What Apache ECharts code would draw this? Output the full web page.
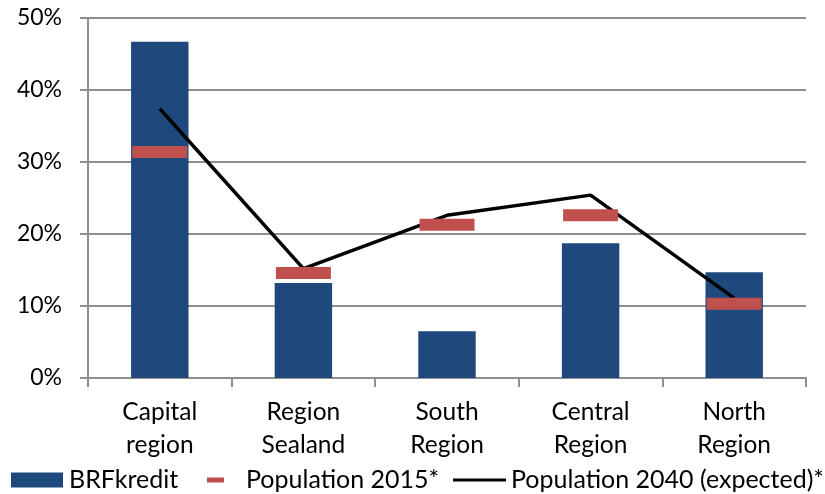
<!DOCTYPE html>
<html>
<head>
<meta charset="utf-8">
<script src="https://cdn.jsdelivr.net/npm/echarts@6/dist/echarts.min.js"></script>
<style>
  html, body { margin: 0; padding: 0; background: #fff; }
  #chart { width: 825px; height: 494px; }
</style>
</head>
<body>
<div id="chart"></div>
<script>
// Regional shares (%)
const regions = ['Capital\nregion', 'Region\nSealand', 'South\nRegion', 'Central\nRegion', 'North\nRegion'];
const brfkredit = [46.7, 13.2, 6.5, 18.7, 14.7];
const population2015 = [31.4, 14.6, 21.3, 22.6, 10.3];
const population2040 = [37.4, 15.2, 22.6, 25.4, 11.1];
const yTicks = [0, 10, 20, 30, 40, 50];

const FONT = 'Lato, "Open Sans", sans-serif';
const GRID_COLOR = '#8f8f8f';

const chart = echarts.init(document.getElementById('chart'), null, { renderer: 'canvas' });

const legendText = { color: '#000', fontFamily: FONT, fontSize: 25, lineHeight: 26 };

chart.setOption({
  animation: false,
  backgroundColor: '#fff',
  grid: { left: 88, right: 19, top: 18, bottom: 116, containLabel: false },
  xAxis: {
    type: 'category',
    data: regions,
    boundaryGap: true,
    axisLine: { lineStyle: { color: GRID_COLOR, width: 2 } },
    axisTick: { show: true, length: 9, lineStyle: { color: GRID_COLOR, width: 2 } },
    axisLabel: {
      color: '#000', fontFamily: FONT, fontSize: 24.5, lineHeight: 33, margin: 18,
      interval: 0
    }
  },
  yAxis: {
    type: 'value',
    min: yTicks[0],
    max: yTicks[yTicks.length - 1],
    interval: 10,
    axisLine: { show: true, lineStyle: { color: GRID_COLOR, width: 2 } },
    axisTick: { show: true, length: 8, lineStyle: { color: GRID_COLOR, width: 2 } },
    splitLine: { show: true, lineStyle: { color: GRID_COLOR, width: 2 } },
    axisLabel: {
      color: '#000', fontFamily: FONT, fontSize: 23, margin: 26,
      formatter: v => v + '%'
    }
  },
  legend: [
    {
      data: [{ name: 'BRFkredit', icon: 'rect' }],
      left: 11, top: 467, padding: 0, itemWidth: 52, itemHeight: 15,
      textStyle: Object.assign({}, legendText, { padding: [0, 0, 0, 1] }),
      selectedMode: false
    },
    {
      data: [{ name: 'Population 2015*', icon: 'rect' }],
      left: 207, top: 467, padding: 0, itemWidth: 17, itemHeight: 5,
      textStyle: Object.assign({}, legendText, { padding: [0, 0, 0, 17] }),
      selectedMode: false
    },
    {
      data: [{ name: 'Population 2040 (expected)*', icon: 'rect' }],
      left: 453, top: 467, padding: 0, itemWidth: 53, itemHeight: 3,
      textStyle: legendText,
      selectedMode: false
    }
  ],
  series: [
    {
      name: 'BRFkredit',
      type: 'bar',
      data: brfkredit,
      barWidth: '40%',
      itemStyle: { color: '#1F497D' },
      z: 2
    },
    {
      name: 'Population 2040 (expected)*',
      type: 'line',
      data: population2040,
      symbol: 'none',
      lineStyle: { color: '#000', width: 3.5 },
      itemStyle: { color: '#000' },
      z: 3
    },
    {
      name: 'Population 2015*',
      type: 'scatter',
      data: population2015,
      symbol: 'rect',
      symbolSize: [55, 12],
      itemStyle: { color: '#C0504D', opacity: 1 },
      z: 4
    }
  ]
});
</script>
</body>
</html>
